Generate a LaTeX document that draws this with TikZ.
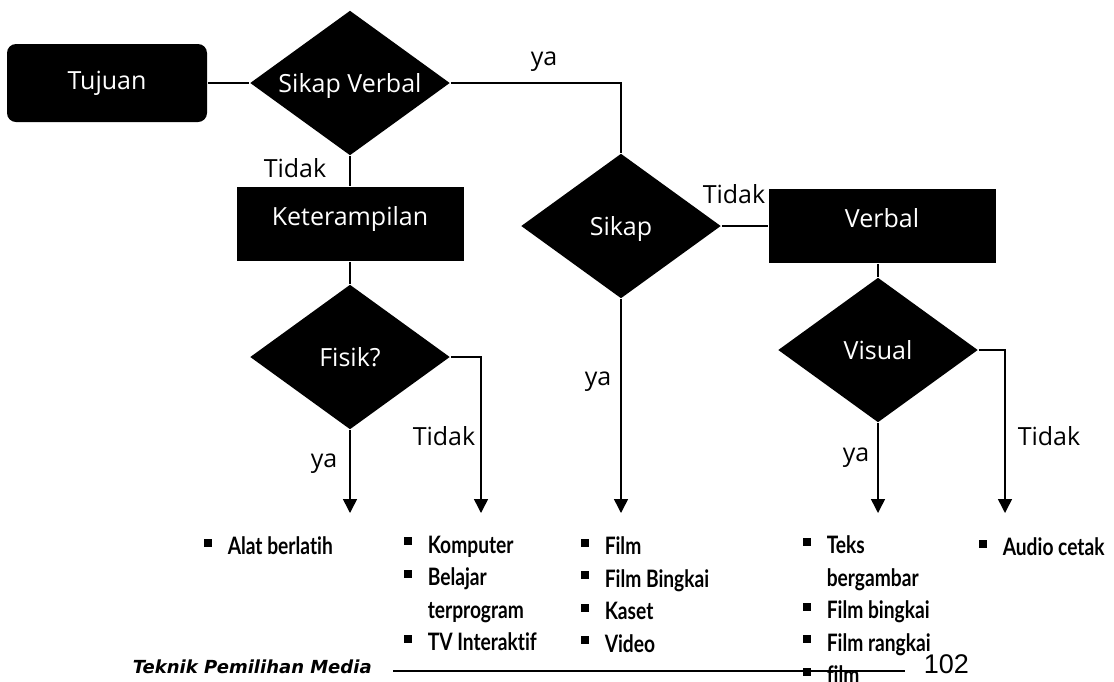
\documentclass[tikz,border=0pt]{standalone}
\usepackage{fontspec}
\setmainfont{Open Sans}
\newfontfamily\listfont[FakeStretch=0.8,Ligatures=NoCommon]{Lato}
\newfontfamily\footfont{DejaVu Sans}
\newfontfamily\numfont{Liberation Sans}
\usetikzlibrary{shapes.geometric,arrows.meta}
\newcommand{\blt}{\makebox[24pt][l]{\rule[8pt]{8pt}{8pt}}}
\newcommand{\ind}{\hspace*{24pt}}

\begin{document}
\begin{tikzpicture}[x=1pt,y=-1pt,line width=1.5pt,
  lbl/.style={font=\fontsize{25}{30}\selectfont,inner sep=0pt,anchor=base west},
  dec/.style={diamond,fill=black,text=white,font=\fontsize{25}{30}\selectfont,inner sep=0pt,shape aspect=1.38,minimum width=200pt,minimum height=145pt,text height=18pt,text depth=0pt},
  blk/.style={rectangle,fill=black,text=white,font=\fontsize{25}{30}\selectfont,minimum width=227pt,minimum height=74pt,text height=18pt,text depth=16pt},
  lst/.style={font=\listfont\bfseries\fontsize{24}{32.5}\selectfont,align=left,anchor=north west,inner sep=0pt},
  arr/.style={-{Triangle[width=14pt,length=14pt]}}]
\clip (0,0) rectangle (1114,681);
\node[blk,rounded corners=9pt,minimum width=200pt,minimum height=78pt,text depth=6pt] (tuj) at (107,83) {Tujuan};
\node[dec] (sv) at (350,83) {Sikap Verbal};
\node[blk] (ket) at (350,224) {Keterampilan};
\node[dec] (fis) at (350,357) {Fisik?};
\node[dec] (sik) at (621,226) {Sikap};
\node[blk] (vrb) at (882,226) {Verbal};
\node[dec] (vis) at (878,350) {Visual};
\coordinate (fisy) at (350,513);
\coordinate (fist) at (481,513);
\coordinate (siky) at (621,513);
\coordinate (visy) at (878,513);
\coordinate (vist) at (1005,513);
\draw (tuj.east) -- (sv.west);
\draw (sv.east) -| (sik.north);
\draw (sv.south) -- (ket.north);
\draw (ket.south) -- (fis.north);
\draw[arr] (fis.south) -- (fisy);
\draw[arr] (fis.east) -| (fist);
\draw[arr] (sik.south) -- (siky);
\draw (sik.east) -- (vrb.west);
\draw (vrb.south -| vis.north) -- (vis.north);
\draw[arr] (vis.south) -- (visy);
\draw[arr] (vis.east) -| (vist);
\node[lbl] (ya1) at (530,65) {ya};
\node[lbl] (td1) at (263,177) {Tidak};
\node[lbl] (td2) at (702,203) {Tidak};
\node[lbl] (td3) at (412,445) {Tidak};
\node[lbl] (ya2) at (310,467) {ya};
\node[lbl] (ya3) at (584,385) {ya};
\node[lbl] (ya4) at (842,461) {ya};
\node[lbl] (td4) at (1017,445) {Tidak};
\node[lst] (l1) at (203,536) {\blt Alat berlatih};
\node[lst] (l2) at (403,535) {\blt Komputer\\\blt Belajar\\\ind terprogram\\\blt TV Interaktif};
\node[lst] (l3) at (580,536) {\blt Film\\\blt Film Bingkai\\\blt Kaset\\\blt Video};
\node[lst] (l4) at (802,535) {\blt Teks\\\ind bergambar\\\blt Film bingkai\\\blt Film rangkai\\\blt film};
\node[lst] (l5) at (978,537) {\blt Audio cetak};
\node[font=\footfont\bfseries\itshape\fontsize{18}{22}\selectfont,inner sep=0pt,anchor=base west] (ftr) at (132,673) {Teknik Pemilihan Media};
\node[font=\numfont\fontsize{27}{30}\selectfont,inner sep=0pt,anchor=base west] (pg) at (923,673) {102};
\coordinate (fs) at (393,671);
\coordinate (fe) at (905,671);
\draw[line width=1.2pt] (fs) -- (fe);
\end{tikzpicture}
\end{document}
